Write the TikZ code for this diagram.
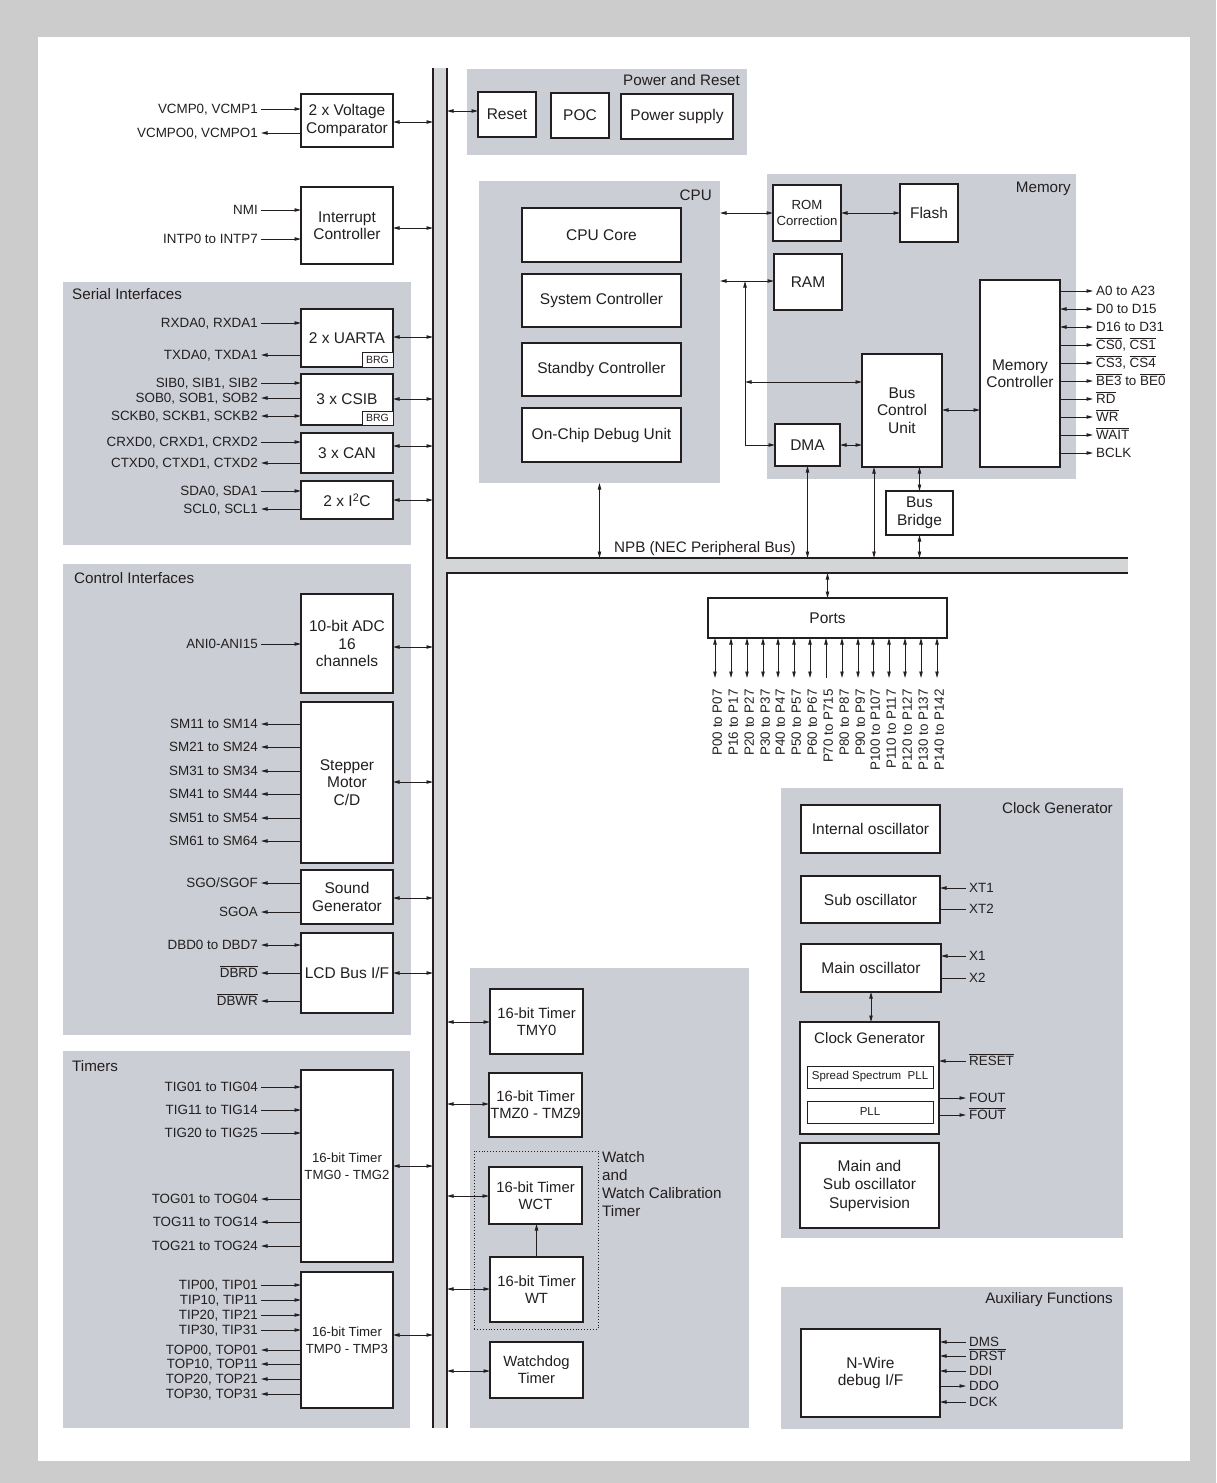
\documentclass[tikz,border=0pt]{standalone}
\usepackage{fontspec}
\setmainfont{Liberation Sans}
\usetikzlibrary{arrows.meta}
\definecolor{ink}{HTML}{231F20}
\definecolor{framec}{HTML}{CCCCCC}
\definecolor{panelc}{HTML}{CBCED4}
\definecolor{busc}{HTML}{D4D5D7}
\newcommand{\ovr}[1]{\leavevmode\vbox{\hrule height 0.8pt\kern 1.6pt\hbox{#1}}}
\tikzset{
  arw/.tip={Triangle[length=6.5pt,width=3.4pt]},
  box/.style={draw=ink, fill=white, line width=1.3pt, align=center, inner sep=0pt, outer sep=0pt, text=ink, font=\fontsize{15.5}{17.5}\selectfont},
  sbox/.style={box, font=\fontsize{13.2}{16.5}\selectfont},
  tbox/.style={box, font=\fontsize{13.2}{17}\selectfont},
  mbox/.style={box, font=\fontsize{14.8}{17}\selectfont},
  tinybox/.style={box, line width=1pt, font=\fontsize{11.5}{13}\selectfont},
  brgbox/.style={box, line width=1pt, font=\fontsize{10.5}{12}\selectfont},
  supbox/.style={box, font=\fontsize{15.5}{18.5}\selectfont},
  grpbox/.style={draw=ink, dotted, line width=0.9pt, fill=none, inner sep=0pt, outer sep=0pt},
  pnl/.style={fill=panelc, draw=none, inner sep=0pt, outer sep=0pt},
  busn/.style={fill=busc, draw=none, inner sep=0pt, outer sep=0pt},
  busline/.style={draw=ink, line width=1.6pt},
  ttl/.style={font=\fontsize{15.2}{17.5}\selectfont, text=ink, inner sep=0pt},
  lbl/.style={font=\fontsize{13.4}{15}\selectfont, text=ink, inner xsep=3pt, inner ysep=0pt, text height=9.5pt, text depth=0pt},
  con/.style={draw=ink, line width=0.9pt},
  aend/.style={con, -{arw}},
  astart/.style={con, {arw}-},
  abi/.style={con, {arw}-{arw}},
  anone/.style={con},
}
% box: [style]{name}{x1}{y1}{x2}{y2}{text}
\newcommand{\bx}[7][box]{\node[#1, minimum width={(#5-#3)*1pt}, minimum height={(#6-#4)*1pt}] (#2) at ({(#3+#5)/2},{(#4+#6)/2}) {#7};}
\newcommand{\mkpanel}[5]{\node[pnl, minimum width={(#4-#2)*1pt}, minimum height={(#5-#3)*1pt}] (#1) at ({(#2+#4)/2},{(#3+#5)/2}) {};}
% left signal: {box}{y}{style}{text}
\newcommand{\lsig}[4]{\node[lbl, anchor=east] (#1l#2) at (261,#2) {#4}; \draw[#3] (#1l#2.east) -- (#1l#2.east -| #1.west);}
% right signal: {box}{y}{style}{text}{x}
\newcommand{\rsig}[5]{\node[lbl, anchor=west] (#1r#2) at (#5,#2) {#4}; \draw[#3] (#1r#2.west -| #1.east) -- (#1r#2.west);}
\newcommand{\busL}[2]{\draw[abi] (#1.east |- 0,#2) -- (vbus.west |- 0,#2);}
\newcommand{\busR}[2]{\draw[abi] (#1.west |- 0,#2) -- (vbus.east |- 0,#2);}
\begin{document}
\begin{tikzpicture}[x=1pt,y=-1pt]
\useasboundingbox (0,0) rectangle (1216,1483);
\fill[framec] (0,0) rectangle (1216,1483);
\fill[white] (38,37) rectangle (1190,1461);

% panels
\mkpanel{serial}{63}{282}{411}{545}
\mkpanel{control}{63}{564}{411}{1035}
\mkpanel{timersL}{63}{1051}{410}{1428}
\mkpanel{power}{467}{69}{747}{155}
\mkpanel{cpu}{479}{181}{720}{483}
\mkpanel{memory}{767}{174}{1076}{479}
\mkpanel{timersM}{470}{968}{749}{1428}
\mkpanel{clock}{781}{788}{1123}{1238}
\mkpanel{aux}{781}{1287}{1123}{1429}

\node[ttl, anchor=base west] (tser) at (72,299) {Serial Interfaces};
\node[ttl, anchor=base west] (tctl) at (74,583) {Control Interfaces};
\node[ttl, anchor=base west] (ttim) at (72,1071) {Timers};
\node[ttl, anchor=base east] (tpow) at (740,85) {Power and Reset};
\node[ttl, anchor=base east] (tcpu) at (712,200) {CPU};
\node[ttl, anchor=base east] (tmem) at (1071,192) {Memory};
\node[ttl, anchor=base east] (tclk) at (1113,813) {Clock Generator};
\node[ttl, anchor=base east] (taux) at (1113,1303) {Auxiliary Functions};

% buses
\node[busn, minimum width=14pt, minimum height=1360pt] (vbus) at (440,748) {};
\node[busn, minimum width=681pt, minimum height=15pt] (hbus) at (787.5,565.5) {};
\draw[busline] (vbus.north west) -- (vbus.south west);
\draw[busline] (vbus.north east) -- (vbus.north east |- hbus.north) -- (hbus.north east);
\draw[busline] (hbus.south east) -- (hbus.south west) -- (vbus.south east);
\node[ttl, anchor=base west] (npb) at (614,552) {NPB (NEC Peripheral Bus)};

% left column blocks
\bx{vc}{301}{94}{393}{147}{2 x Voltage\\Comparator}
\bx{ic}{301}{187}{393}{264}{Interrupt\\Controller}
\bx{uarta}{301}{309}{393}{367}{2 x UARTA}
\bx[brgbox]{brga}{362}{352}{393}{367}{BRG}
\bx{csib}{301}{374}{393}{425}{3 x CSIB}
\bx[brgbox]{brgb}{362}{411}{393}{425}{BRG}
\bx{can}{301}{433}{393}{473}{3 x CAN}
\bx{iic}{301}{481}{393}{519}{2 x I\textsuperscript{2}C}
\bx{adc}{301}{594}{393}{693}{10-bit ADC\\16\\channels}
\bx{step}{301}{702}{393}{863}{Stepper\\Motor\\C/D}
\bx{sound}{301}{870}{393}{924}{Sound\\Generator}
\bx{lcd}{301}{933}{393}{1013}{LCD Bus I/F}
\bx[tbox]{tmg}{301}{1070}{393}{1262}{16-bit Timer\\TMG0 - TMG2}
\bx[tbox]{tmp}{301}{1272}{393}{1408}{16-bit Timer\\TMP0 - TMP3}

\lsig{vc}{109}{aend}{VCMP0, VCMP1}
\lsig{vc}{133}{astart}{VCMPO0, VCMPO1}
\lsig{ic}{210}{aend}{NMI}
\lsig{ic}{239}{aend}{INTP0 to INTP7}
\lsig{uarta}{323}{aend}{RXDA0, RXDA1}
\lsig{uarta}{355}{astart}{TXDA0, TXDA1}
\lsig{csib}{383}{aend}{SIB0, SIB1, SIB2}
\lsig{csib}{398}{astart}{SOB0, SOB1, SOB2}
\lsig{csib}{416}{abi}{SCKB0, SCKB1, SCKB2}
\lsig{can}{442}{aend}{CRXD0, CRXD1, CRXD2}
\lsig{can}{463}{astart}{CTXD0, CTXD1, CTXD2}
\lsig{iic}{491}{aend}{SDA0, SDA1}
\lsig{iic}{509}{astart}{SCL0, SCL1}
\lsig{adc}{644}{aend}{ANI0-ANI15}
\lsig{step}{724}{astart}{SM11 to SM14}
\lsig{step}{747}{astart}{SM21 to SM24}
\lsig{step}{771}{astart}{SM31 to SM34}
\lsig{step}{794}{astart}{SM41 to SM44}
\lsig{step}{818}{astart}{SM51 to SM54}
\lsig{step}{841}{astart}{SM61 to SM64}
\lsig{sound}{883}{astart}{SGO/SGOF}
\lsig{sound}{912}{astart}{SGOA}
\lsig{lcd}{945}{abi}{DBD0 to DBD7}
\lsig{lcd}{973}{astart}{\ovr{DBRD}}
\lsig{lcd}{1001}{astart}{\ovr{DBWR}}
\lsig{tmg}{1087}{aend}{TIG01 to TIG04}
\lsig{tmg}{1110}{aend}{TIG11 to TIG14}
\lsig{tmg}{1133}{aend}{TIG20 to TIG25}
\lsig{tmg}{1199}{astart}{TOG01 to TOG04}
\lsig{tmg}{1222}{astart}{TOG11 to TOG14}
\lsig{tmg}{1246}{astart}{TOG21 to TOG24}
\lsig{tmp}{1285}{aend}{TIP00, TIP01}
\lsig{tmp}{1300}{aend}{TIP10, TIP11}
\lsig{tmp}{1315}{aend}{TIP20, TIP21}
\lsig{tmp}{1330}{aend}{TIP30, TIP31}
\lsig{tmp}{1350}{astart}{TOP00, TOP01}
\lsig{tmp}{1364}{astart}{TOP10, TOP11}
\lsig{tmp}{1379}{astart}{TOP20, TOP21}
\lsig{tmp}{1394}{astart}{TOP30, TOP31}

\busL{vc}{122}
\busL{ic}{228}
\busL{uarta}{337}
\busL{csib}{399}
\busL{can}{446}
\busL{iic}{500}
\busL{adc}{647}
\busL{step}{782}
\busL{sound}{898}
\busL{lcd}{973}
\busL{tmg}{1166}
\busL{tmp}{1335}

% power and reset
\bx{reset}{478}{92}{536}{137}{Reset}
\bx{poc}{551}{93}{609}{138}{POC}
\bx{psup}{621}{94}{733}{139}{Power supply}
\busR{reset}{111}

% CPU
\bx{core}{522}{208}{681}{262}{CPU Core}
\bx{sysc}{522}{274}{681}{327}{System Controller}
\bx{stby}{522}{343}{681}{396}{Standby Controller}
\bx{ocd}{522}{408}{681}{462}{On-Chip Debug Unit}

% memory
\bx[sbox]{romc}{773}{185}{841}{241}{ROM\\Correction}
\bx{flash}{900}{184}{958}{242}{Flash}
\bx{ram}{774}{254}{842}{310}{RAM}
\bx{dma}{775}{424}{840}{466}{DMA}
\bx{bcu}{862}{354}{942}{467}{Bus\\Control\\Unit}
\bx{mc}{980}{280}{1060}{467}{Memory\\Controller}
\bx{bridge}{886}{491}{953}{535}{Bus\\Bridge}

\draw[abi] (cpu.east |- 0,213) -- (romc.west |- 0,213);
\draw[abi] (romc.east |- 0,213) -- (flash.west |- 0,213);
\draw[abi] (cpu.east |- 0,281) -- (ram.west |- 0,281);
\coordinate (jr) at (745,281);
\coordinate (jb) at (745,382);
\draw[abi] (jr) |- (dma.west |- 0,445);
\draw[abi] (jb) -- (bcu.west |- jb);
\draw[abi] (dma.east |- 0,445) -- (bcu.west |- 0,445);
\draw[abi] (bcu.east |- 0,410) -- (mc.west |- 0,410);

\rsig{mc}{291}{aend}{A0 to A23}{1093}
\rsig{mc}{309}{abi}{D0 to D15}{1093}
\rsig{mc}{327}{abi}{D16 to D31}{1093}
\rsig{mc}{345}{aend}{\ovr{CS0}, \ovr{CS1}}{1093}
\rsig{mc}{363}{aend}{\ovr{CS3}, \ovr{CS4}}{1093}
\rsig{mc}{381}{aend}{\ovr{BE3} to \ovr{BE0}}{1093}
\rsig{mc}{399}{aend}{\ovr{RD}}{1093}
\rsig{mc}{417}{aend}{\ovr{WR}}{1093}
\rsig{mc}{435}{aend}{\ovr{WAIT}}{1093}
\rsig{mc}{453}{aend}{BCLK}{1093}

% links to NPB
\coordinate (bcuL) at ([xshift=-28pt]bcu.south);
\draw[abi] (cpu.south) -- (cpu.south |- hbus.north);
\draw[abi] (dma.south) -- (dma.south |- hbus.north);
\draw[abi] (bcuL) -- (bcuL |- hbus.north);
\draw[abi] (bridge.north) -- (bridge.north |- bcu.south);
\draw[abi] (bridge.south) -- (bridge.south |- hbus.north);

% ports
\bx{ports}{708}{598}{947}{638}{Ports}
\draw[abi] (ports.north |- hbus.south) -- (ports.north);
\foreach \x/\t in {715/P00 to P07, 731/P16 to P17, 747/P20 to P27, 763/P30 to P37, 778/P40 to P47, 794/P50 to P57, 810/P60 to P67, 842/P80 to P87, 858/P90 to P97, 873/P100 to P107, 889/P110 to P117, 905/P120 to P127, 921/P130 to P137, 937/P140 to P142}{
  \draw[abi] (ports.south -| \x,0) -- (\x,678);
  \node[lbl, rotate=90, anchor=east] (pl\x) at (\x+2,686) {\t};
}
\draw[astart] (ports.south -| 826,0) -- (826,678);
\node[lbl, rotate=90, anchor=east] (pl826) at (828,686) {P70 to P715};

% middle timers
\node[grpbox, minimum width=124pt, minimum height=178pt] (wgrp) at (536,1240) {};
\bx[mbox]{tmy}{490}{989}{583}{1054}{16-bit Timer\\TMY0}
\bx[mbox]{tmz}{489}{1073}{582}{1137}{16-bit Timer\\TMZ0 - TMZ9}
\bx[mbox]{wct}{489}{1167}{582}{1224}{16-bit Timer\\WCT}
\bx[mbox]{wt}{490}{1257}{583}{1322}{16-bit Timer\\WT}
\bx[mbox]{wdt}{490}{1342}{583}{1398}{Watchdog\\Timer}
\busR{tmy}{1022}
\busR{tmz}{1104}
\busR{wct}{1196}
\busR{wt}{1289}
\busR{wdt}{1371}
\draw[aend] (wt.north) -- (wt.north |- wct.south);
\node[anchor=north west, inner sep=0pt, align=left, text=ink, font=\fontsize{15.2}{18}\selectfont] (wlbl) at (602,1151) {Watch\\and\\Watch Calibration\\Timer};

% clock generator
\bx{intosc}{801}{805}{940}{853}{Internal oscillator}
\bx{subosc}{801}{876}{940}{923}{Sub oscillator}
\bx{mainosc}{801}{944}{941}{992}{Main oscillator}
\bx{clkgen}{800}{1022}{939}{1134}{}
\node[ttl, anchor=base] (cgt) at (869.5,1043) {Clock Generator};
\bx[tinybox]{sspll}{807}{1066}{933}{1088}{Spread Spectrum\ \ PLL}
\bx[tinybox]{pll}{807}{1101}{933}{1123}{PLL}
\bx[supbox]{superv}{800}{1143}{939}{1228}{Main and\\Sub oscillator\\Supervision}
\draw[abi] (mainosc.south) -- (mainosc.south |- clkgen.north);
\rsig{subosc}{888}{astart}{XT1}{966}
\rsig{subosc}{909}{anone}{XT2}{966}
\rsig{mainosc}{956}{astart}{X1}{966}
\rsig{mainosc}{978}{anone}{X2}{966}
\rsig{clkgen}{1061}{astart}{\ovr{RESET}}{966}
\rsig{clkgen}{1098}{aend}{FOUT}{966}
\rsig{clkgen}{1115}{aend}{\ovr{FOUT}}{966}

% auxiliary
\bx{nwire}{801}{1329}{940}{1417}{N-Wire\\debug I/F}
\rsig{nwire}{1342}{astart}{DMS}{966}
\rsig{nwire}{1356}{astart}{\ovr{DRST}}{966}
\rsig{nwire}{1371}{astart}{DDI}{966}
\rsig{nwire}{1386}{aend}{DDO}{966}
\rsig{nwire}{1402}{astart}{DCK}{966}
\end{tikzpicture}
\end{document}
